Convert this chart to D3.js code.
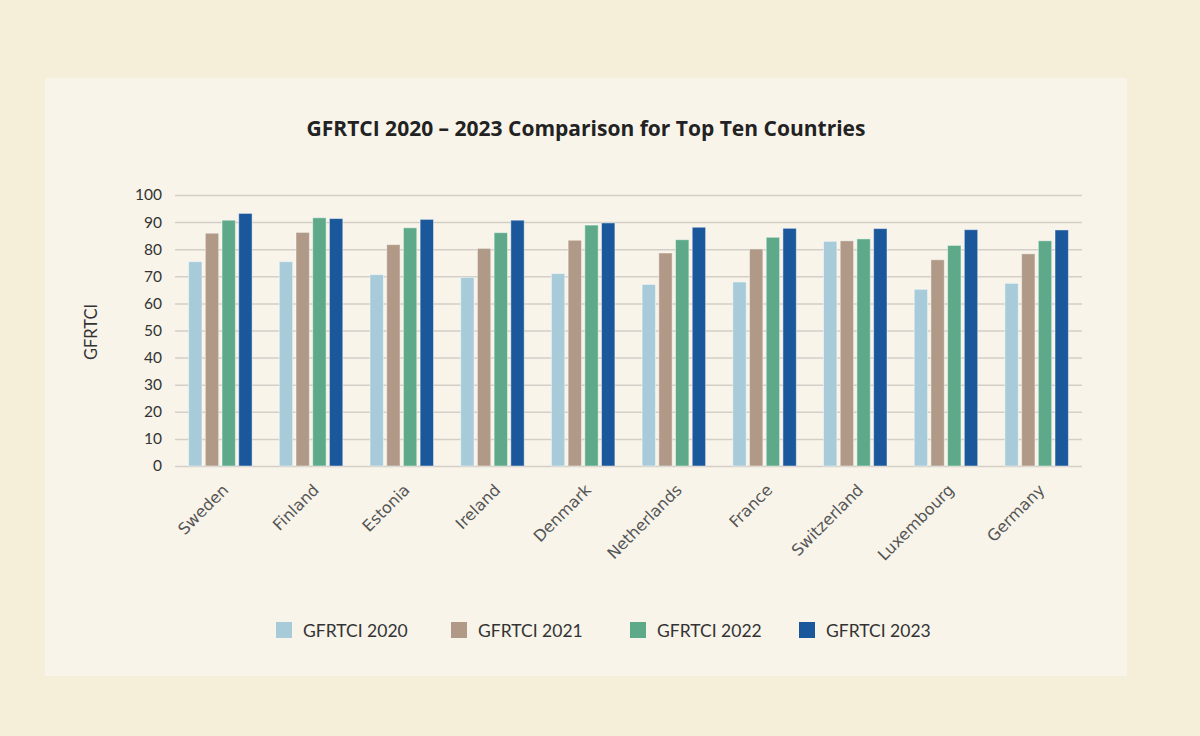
<!DOCTYPE html>
<html>
<head>
<meta charset="utf-8">
<script src="https://cdn.jsdelivr.net/npm/d3@7"></script>
<style>
  html, body { margin: 0; padding: 0; background: #f5eed9; }
  svg { display: block; }
</style>
</head>
<body>
<svg id="chart" width="1200" height="736"></svg>
<script>
const countries = ["Sweden", "Finland", "Estonia", "Ireland", "Denmark", "Netherlands", "France", "Switzerland", "Luxembourg", "Germany"];
const seriesNames = ["GFRTCI 2020", "GFRTCI 2021", "GFRTCI 2022", "GFRTCI 2023"];
const values2020 = [75.4, 75.4, 70.6, 69.6, 71.0, 67.0, 67.9, 82.9, 65.2, 67.4];
const values2021 = [85.9, 86.2, 81.7, 80.3, 83.3, 78.6, 80.1, 83.1, 76.1, 78.3];
const values2022 = [90.7, 91.6, 87.9, 86.1, 88.9, 83.5, 84.4, 83.8, 81.4, 83.1];
const values2023 = [93.2, 91.3, 91.0, 90.7, 89.7, 88.1, 87.7, 87.6, 87.2, 87.1];
const yTicks = [0, 10, 20, 30, 40, 50, 60, 70, 80, 90, 100];
const colors = ["#a7cbd9", "#b09a87", "#5ea98a", "#1a579b"];
const titleText = "GFRTCI 2020 \u2013 2023 Comparison for Top Ten Countries";
const yLabel = "GFRTCI";

const seriesValues = [values2020, values2021, values2022, values2023];
const data = countries.map((c, i) => ({ country: c, vals: seriesValues.map((s, k) => ({ key: seriesNames[k], k, v: s[i] })) }));

const svg = d3.select("#chart");

// panel
svg.append("rect").attr("x", 45).attr("y", 78).attr("width", 1082).attr("height", 598).attr("fill", "#f8f4ea");

const plotLeft = 175, plotRight = 1082, plotTop = 195, plotBottom = 466;

const x0 = d3.scaleBand().domain(countries).range([plotLeft, plotRight]).paddingInner(0.3).paddingOuter(0.15);
const x1 = d3.scaleBand().domain(seriesNames).range([0, x0.bandwidth()]).paddingInner(0.2).paddingOuter(0);
const y = d3.scaleLinear().domain([0, 100]).range([plotBottom, plotTop]);
const color = d3.scaleOrdinal().domain(seriesNames).range(colors);

// title
svg.append("text").attr("x", 586).attr("y", 136).attr("text-anchor", "middle")
  .attr("font-family", "'Open Sans', sans-serif").attr("font-weight", 700).attr("font-size", 21)
  .attr("fill", "#222").text(titleText);

// grid + y axis
const yAxis = d3.axisLeft(y).tickValues(yTicks).tickSize(-(plotRight - plotLeft)).tickPadding(13);
const gy = svg.append("g").attr("transform", `translate(${plotLeft},0)`).call(yAxis);
gy.select(".domain").remove();
gy.selectAll(".tick line").attr("stroke", "#d3cfc8").attr("stroke-width", 1.5);
gy.selectAll(".tick text").attr("font-family", "Lato, sans-serif").attr("font-size", 15.5).attr("fill", "#333");

// y label
svg.append("text").attr("transform", `translate(97,332) rotate(-90)`).attr("text-anchor", "middle")
  .attr("font-family", "Lato, sans-serif").attr("font-size", 16.5).attr("fill", "#333").text(yLabel);

// bars
const groups = svg.append("g").selectAll("g").data(data).join("g")
  .attr("transform", d => `translate(${x0(d.country)},0)`);
groups.selectAll("rect").data(d => d.vals).join("rect")
  .attr("x", d => x1(d.key)).attr("width", x1.bandwidth())
  .attr("y", d => y(d.v)).attr("height", d => y(0) - y(d.v))
  .attr("fill", d => color(d.key))
  .attr("stroke", "rgba(255,255,255,0.45)").attr("stroke-width", 1);

// x axis labels
const xAxis = d3.axisBottom(x0).tickSize(0).tickPadding(0);
const gx = svg.append("g").attr("transform", `translate(0,${plotBottom})`).call(xAxis);
gx.select(".domain").remove();
gx.selectAll(".tick text")
  .attr("font-family", "'DejaVu Sans', sans-serif").attr("font-size", 16).attr("fill", "#555")
  .attr("text-anchor", "end").attr("dy", null).attr("y", 0)
  .attr("transform", "translate(9,25) rotate(-45)");

// legend
const legendX = [276, 451, 630, 799];
const lg = svg.append("g").selectAll("g").data(seriesNames).join("g")
  .attr("transform", (d, i) => `translate(${legendX[i]},622)`);
lg.append("rect").attr("width", 16).attr("height", 16).attr("fill", d => color(d));
lg.append("text").attr("x", 27).attr("y", 14.5)
  .attr("font-family", "Lato, sans-serif").attr("font-size", 17.5).attr("fill", "#333").text(d => d);
</script>
</body>
</html>
